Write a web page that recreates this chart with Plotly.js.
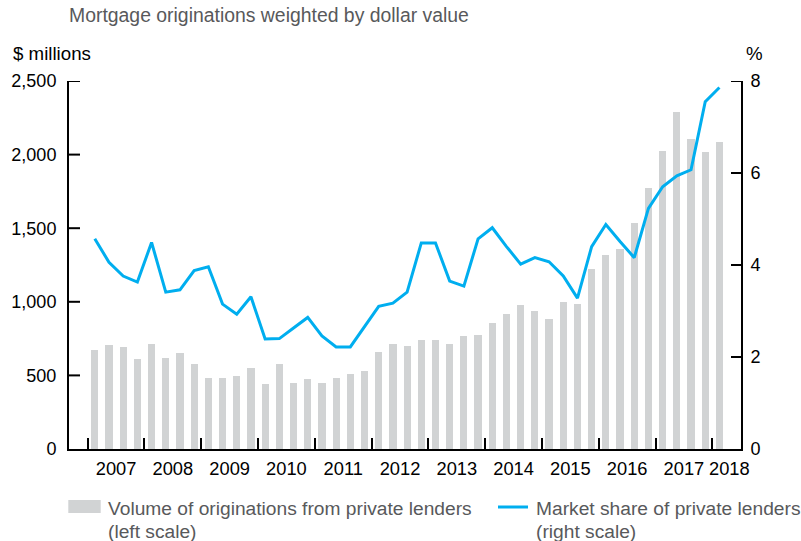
<!DOCTYPE html>
<html><head><meta charset="utf-8">
<script src="https://cdn.plot.ly/plotly-3.0.1.min.js"></script>
<style>html,body{margin:0;padding:0;background:#fff}</style>
</head><body><div id="chart" style="width:801px;height:541px"></div>
<script>
// Quarterly data, 2007 Q1 – 2018 Q1
const firstYear = 2007;
const yearLabels = ["2007","2008","2009","2010","2011","2012","2013","2014","2015","2016","2017","2018"];
const volume = [672,706,693,611, 713,618,652,577, 482,482,496,550, 442,577,448,475,
                448,482,509,530, 659,713,700,740, 740,713,768,774, 856,917,978,937,
                883,999,985,1223, 1318,1359,1535,1773, 2026,2289,2106,2017, 2087];
const share = [4.57,4.06,3.76,3.63, 4.49,3.41,3.46,3.88, 3.96,3.15,2.93,3.31, 2.39,2.40,2.63,2.86,
               2.46,2.22,2.22,2.66, 3.10,3.17,3.41,4.48, 4.48,3.65,3.54,4.57, 4.81,4.40,4.02,4.16,
               4.07,3.76,3.28,4.40, 4.88,4.51,4.16,5.23, 5.70,5.94,6.07,7.55, 7.86];
const leftTicks = [0,500,1000,1500,2000,2500];
const rightTicks = [0,2,4,6,8];

const xq = volume.map((_, i) => firstYear + (i + 0.5) / 4);
const labelPos = yearLabels.map((y, i) => i < yearLabels.length - 1 ? +y + 0.5 : +y + 0.3);

const FONT = "Liberation Sans, Arial, Helvetica, sans-serif";
const GREY = "#58595b";
const BAR = "#d1d3d4";
const BLUE = "#00aeef";

const L = 69, T = 81, W = 672, H = 368;
const px = x => (x - L) / W;
const py = y => (T + H - y) / H;

const traces = [
  { type: "bar", x: xq, y: volume, width: 0.127, marker: { color: BAR, line: { width: 0 } },
    name: "Volume of originations from private lenders (left scale)", yaxis: "y", hoverinfo: "x+y" },
  { type: "scatter", mode: "lines", x: xq, y: share, yaxis: "y2",
    line: { color: BLUE, width: 3 }, name: "Market share of private lenders (right scale)" }
];

// inward tick marks on both value axes, placed through the axes' own scales
const tickShapes = [
  ...leftTicks.filter(v => v > 0).map(v => ({ type: "line", xref: "paper", yref: "y",
      x0: 0, x1: 11 / W, y0: v, y1: v, line: { color: "#000", width: 2 } })),
  ...rightTicks.filter(v => v > 0).map(v => ({ type: "line", xref: "paper", yref: "y2",
      x0: 1 - 10 / W, x1: 1, y0: v, y1: v, line: { color: "#000", width: 2 } }))
];

const layout = {
  width: 801, height: 541,
  margin: { l: L, r: 801 - L - W, t: T, b: 541 - T - H, pad: 0 },
  paper_bgcolor: "#fff", plot_bgcolor: "#fff",
  font: { family: FONT, color: "#000", size: 18 },
  showlegend: false,
  bargap: 0,
  title: { text: "Mortgage originations weighted by dollar value",
    font: { family: FONT, size: 19.4, color: GREY },
    xref: "container", yref: "container", x: 69 / 801, xanchor: "left",
    y: 1 - 15 / 541, yanchor: "middle" },
  xaxis: {
    range: [2006.671, 2018.505], tickmode: "array", tickvals: labelPos, ticktext: yearLabels,
    ticks: "", showline: true, linecolor: "#000", linewidth: 2, layer: "below traces",
    showgrid: false, zeroline: false, tickfont: { size: 18.3, color: "#000" },
    ticklabelstandoff: 2,
    minor: { ticks: "inside", tickmode: "linear", tick0: firstYear, dtick: 1, ticklen: 11,
             tickwidth: 2, tickcolor: "#000", showgrid: false },
    fixedrange: true
  },
  yaxis: {
    range: [0, 2500], tickmode: "array", tickvals: leftTicks, tickformat: ",d",
    ticks: "", showline: true, linecolor: "#000", linewidth: 2, showgrid: false, zeroline: false,
    ticklabelstandoff: 7,
    layer: "above traces", tickfont: { size: 18, color: "#000" }, fixedrange: true
  },
  yaxis2: {
    overlaying: "y", side: "right", range: [0, 8], tickmode: "array", tickvals: rightTicks,
    ticks: "", showline: true, linecolor: "#000", linewidth: 2, showgrid: false, zeroline: false,
    ticklabelstandoff: 4,
    layer: "above traces", tickfont: { size: 18, color: "#000" }, fixedrange: true
  },
  annotations: [
    { text: "$ millions", xref: "paper", yref: "paper", x: px(11), y: py(54),
      xanchor: "left", yanchor: "middle", showarrow: false, font: { size: 18.7, color: "#000" } },
    { text: "%", xref: "paper", yref: "paper", x: px(744), y: py(54),
      xanchor: "left", yanchor: "middle", showarrow: false, font: { size: 18.7, color: "#000" } },
    { text: "Volume of originations from private lenders", xref: "paper", yref: "paper",
      x: px(105.5), y: py(508), xanchor: "left", yanchor: "middle", showarrow: false,
      font: { size: 19.2, color: GREY } },
    { text: "(left scale)", xref: "paper", yref: "paper",
      x: px(105.5), y: py(531.5), xanchor: "left", yanchor: "middle", showarrow: false,
      font: { size: 19.2, color: GREY } },
    { text: "Market share of private lenders", xref: "paper", yref: "paper",
      x: px(534), y: py(508), xanchor: "left", yanchor: "middle", showarrow: false,
      font: { size: 19.2, color: GREY } },
    { text: "(right scale)", xref: "paper", yref: "paper",
      x: px(534), y: py(531.5), xanchor: "left", yanchor: "middle", showarrow: false,
      font: { size: 19.2, color: GREY } }
  ],
  shapes: [
    ...tickShapes,
    { type: "rect", xref: "paper", yref: "paper", x0: px(68.3), x1: px(100.7), y0: py(500), y1: py(513),
      fillcolor: BAR, line: { width: 0 } },
    { type: "line", xref: "paper", yref: "paper", x0: px(498), x1: px(528), y0: py(507), y1: py(507),
      line: { color: BLUE, width: 3 } }
  ]
};

Plotly.newPlot("chart", traces, layout, { displayModeBar: false, staticPlot: true });
</script></body></html>
